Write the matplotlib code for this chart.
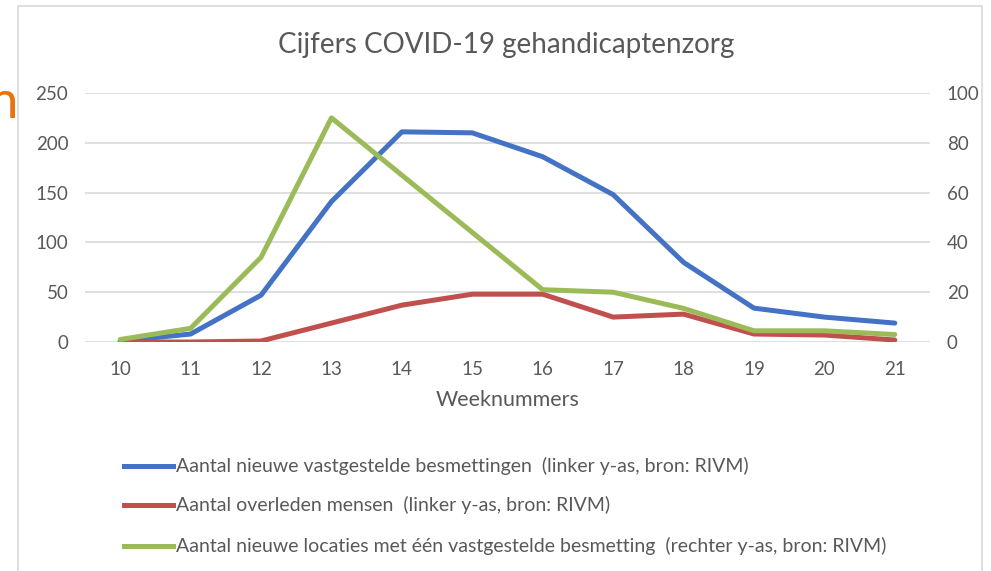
import numpy as np
import matplotlib
matplotlib.use('Agg')
import matplotlib.pyplot as plt
from matplotlib.patches import Rectangle

# ---- data ----
weeks = [10, 11, 12, 13, 14, 15, 16, 17, 18, 19, 20, 21]
besmettingen = [1, 8, 47, 141, 211, 210, 186, 148, 80, 34, 25, 19]
overleden = [0, 0, 1, 19, 37, 48, 48, 25, 28, 8, 7, 2]
locaties = [1, 5.5, 34, 90, 67, 44, 21, 20, 13.5, 4.5, 4.5, 3]

left_ticks = [0, 50, 100, 150, 200, 250]
right_ticks = [0, 20, 40, 60, 80, 100]

labels = ['Aantal nieuwe vastgestelde besmettingen  (linker y-as, bron: RIVM)',
          'Aantal overleden mensen  (linker y-as, bron: RIVM)',
          'Aantal nieuwe locaties met één vastgestelde besmetting  (rechter y-as, bron: RIVM)']
colors = ['#4472C4', '#C0504D', '#9BBB59']
txt = '#595959'

fig = plt.figure(figsize=(9.91, 5.71), dpi=100)
plt.rcParams['font.family'] = ['Lato', 'DejaVu Sans']

# chart frame
fig.patches.append(Rectangle((18/991, -0.05), (982-18)/991, 1.05 - 6/571,
                             transform=fig.transFigure, fill=False,
                             edgecolor='#D9D9D9', lw=1.2))
# leftover from the slide (cut by the left edge)
fig.text(18/991, 1 - 118/571, 'n', color='#E8740C', fontsize=38, va='baseline', ha='right')

ax = fig.add_axes([85/991, 1 - 342/571, 845/991, 249/571])
ax2 = ax.twinx()

ax.plot(weeks, besmettingen, color=colors[0], lw=3.6, solid_capstyle='round', zorder=3)
ax.plot(weeks, overleden, color=colors[1], lw=3.6, solid_capstyle='round', zorder=3)
ax2.plot(weeks, locaties, color=colors[2], lw=3.6, solid_capstyle='round', zorder=3)

ax.set_xlim(9.5, 21.5)
ax.set_ylim(0, 250)
ax2.set_ylim(0, 100)
ax.set_xticks(weeks)
ax.set_yticks(left_ticks)
ax2.set_yticks(right_ticks)
ax.yaxis.grid(True, color='#D9D9D9', lw=1.2)
ax.set_axisbelow(True)
for a in (ax, ax2):
    for s in a.spines.values():
        s.set_visible(False)
    a.tick_params(length=0, labelsize=13.5, labelcolor=txt)
ax.tick_params(axis='y', pad=12)
ax2.tick_params(axis='y', pad=12)
ax.tick_params(axis='x', pad=14)
ax.set_xlabel('Weeknummers', fontsize=15.5, color=txt, labelpad=8)
ax2.set_zorder(ax.get_zorder() + 1)
ax2.patch.set_visible(False)

fig.text(506/991, 1 - 45/571, 'Cijfers COVID-19 gehandicaptenzorg', fontsize=20,
         color=txt, ha='center', va='center')

# legend
leg_y = [466, 505, 546]
for lab, c, y in zip(labels, colors, leg_y):
    yf = 1 - y/571
    fig.add_artist(plt.Line2D([124/991, 173/991], [yf, yf], color=c, lw=3.6,
                              transform=fig.transFigure))
    fig.text(176/991, yf, lab, fontsize=14, color=txt, va='center', ha='left')

fig.savefig('out.png', dpi=100)
